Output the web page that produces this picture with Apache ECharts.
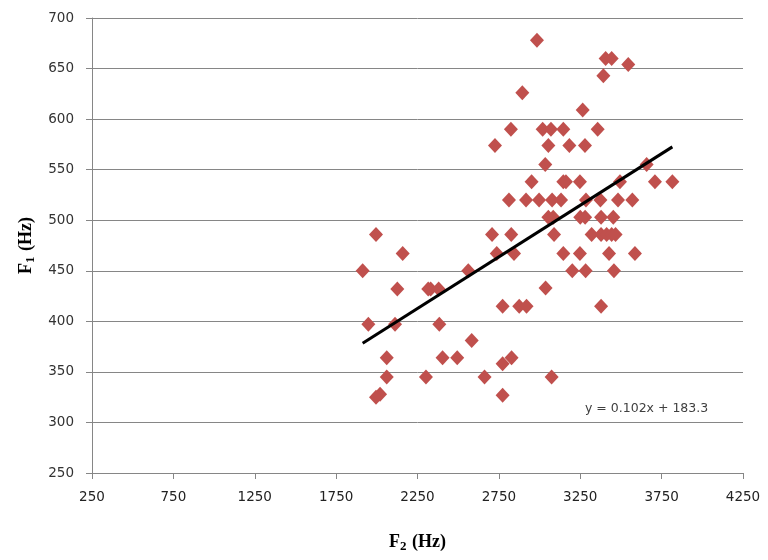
<!DOCTYPE html>
<html>
<head>
<meta charset="utf-8">
<script src="https://cdn.jsdelivr.net/npm/echarts@6/dist/echarts.min.js"></script>
<style>html,body{margin:0;padding:0;background:#fff;}#c{width:768px;height:560px;}</style>
</head>
<body>
<div id="c"></div>
<script>
// F2 (Hz) values of each point
const f2 = [
  1913,1948,1995,2159,2126,2112,2061,2061,2020,1995,
  2316,2331,2380,2384,2404,2494,2302,2562,2583,2662,
  2708,2826,2737,2843,2773,2875,2920,2773,2828,2773,
  3074,3037,3378,2984,3406,3443,3545,3392,2894,3265,
  2824,3019,3070,3146,3357,2726,3054,3183,3279,3035,
  3658,2951,3146,3162,3248,3494,3709,3816,2812,2917,
  2997,3077,3132,3285,3374,3482,3570,3054,3084,3250,
  3280,3378,3453,3089,3320,3378,3412,3443,3467,3146,
  3248,3427,3586,3201,3283,3457
];
// F1 (Hz) values of each point
const f1 = [
  450,397,486,467,432,397,364,345,328,325,
  432,432,432,397,364,364,345,450,381,345,
  486,486,467,467,415,415,415,358,364,327,
  345,433,415,678,660,660,654,643,626,609,
  590,590,590,590,590,574,574,574,574,555,
  555,538,538,538,538,538,538,538,520,520,
  520,520,520,520,520,520,520,503,503,503,
  503,503,503,486,486,486,486,486,486,467,
  467,467,467,450,450,450
];
const trendSlope = 0.102;
const trendIntercept = 183.3;
const equationText = 'y = 0.102x + 183.3';
const xTicks = [250, 750, 1250, 1750, 2250, 2750, 3250, 3750, 4250];
const yTicks = [250, 300, 350, 400, 450, 500, 550, 600, 650, 700];

const points = f2.map((x, i) => [x, f1[i]]);
const xMin = Math.min(...f2), xMax = Math.max(...f2);
const trend = [[xMin, trendSlope * xMin + trendIntercept], [xMax, trendSlope * xMax + trendIntercept]];

const chart = echarts.init(document.getElementById('c'), null, {renderer: 'canvas'});
const axisGray = '#868686';
const titleRich = {
  b: {fontFamily: 'Liberation Serif', fontSize: 18, fontWeight: 'bold', color: '#000', lineHeight: 22},
  s: {fontFamily: 'Liberation Serif', fontSize: 13, fontWeight: 'bold', color: '#000', lineHeight: 22, verticalAlign: 'bottom', padding: [8, 1, 0, 0]}
};
chart.setOption({
  animation: false,
  backgroundColor: '#fff',
  grid: {left: 92, right: 25, top: 18, bottom: 87, containLabel: false},
  xAxis: {
    type: 'value',
    min: xTicks[0], max: xTicks[xTicks.length - 1], interval: 500,
    name: '{b|F}{s|2}{b| (Hz)}',
    nameLocation: 'middle',
    nameGap: 58,
    nameTextStyle: {rich: titleRich},
    axisLine: {show: true, onZero: false, lineStyle: {color: axisGray, width: 1}},
    axisTick: {show: true, length: 6, inside: false, lineStyle: {color: axisGray}},
    axisLabel: {margin: 17, fontFamily: 'DejaVu Sans', fontSize: 13.5, color: '#222', formatter: v => String(v)},
    splitLine: {show: false}
  },
  yAxis: {
    type: 'value',
    min: yTicks[0], max: yTicks[yTicks.length - 1], interval: 50,
    name: '{b|F}{s|1}{b| (Hz)}',
    nameLocation: 'middle',
    nameGap: 54,
    nameRotate: 90,
    nameTextStyle: {rich: titleRich},
    axisLine: {show: true, onZero: false, lineStyle: {color: axisGray, width: 1}},
    axisTick: {show: true, length: 6, inside: false, lineStyle: {color: axisGray}},
    axisLabel: {margin: 18, fontFamily: 'DejaVu Sans', fontSize: 13.5, color: '#333', formatter: v => String(v)},
    splitLine: {show: true, lineStyle: {color: axisGray, width: 1}}
  },
  series: [
    {
      type: 'scatter',
      data: points,
      symbol: 'diamond',
      symbolSize: [14, 15],
      itemStyle: {color: '#C0504D', opacity: 1},
      z: 2
    },
    {
      type: 'line',
      data: trend,
      symbol: 'none',
      lineStyle: {color: '#000', width: 3},
      z: 3
    }
  ],
  graphic: [{
    type: 'text',
    left: 585,
    top: 402,
    style: {text: equationText, fontFamily: 'DejaVu Sans', fontSize: 12.5, fill: '#404040'}
  }]
});
</script>
</body>
</html>
